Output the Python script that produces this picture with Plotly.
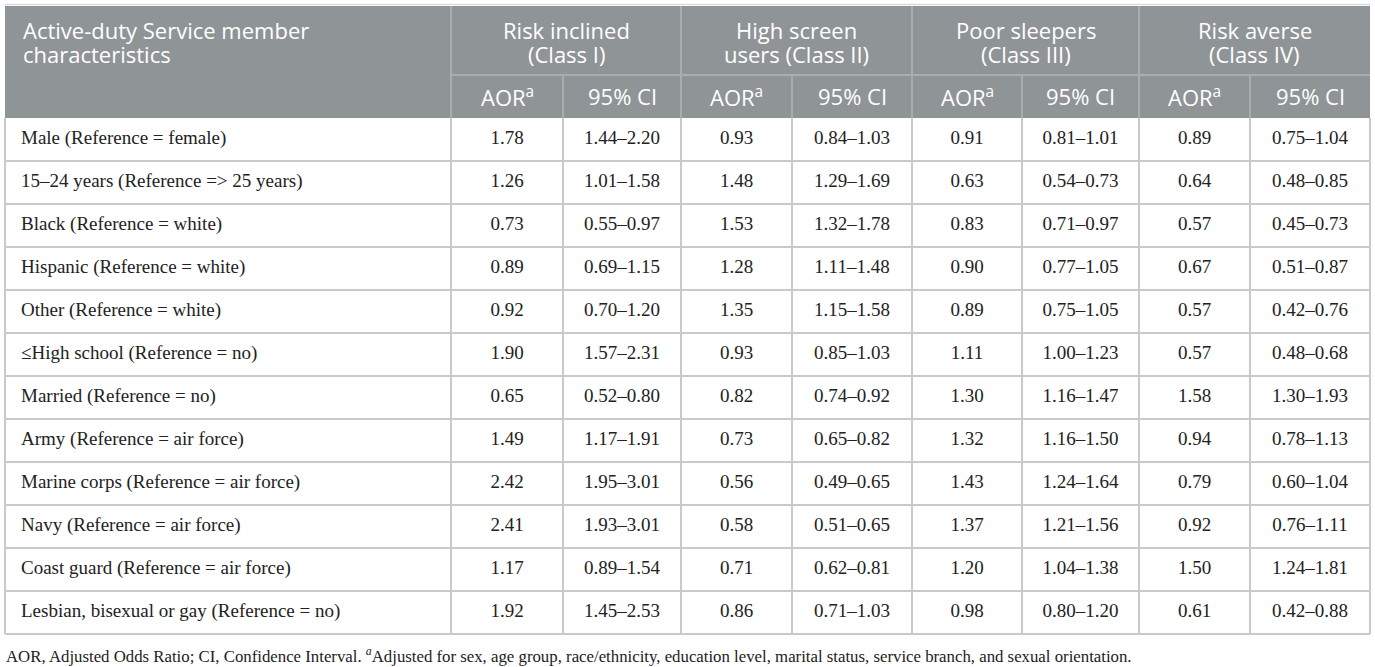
import plotly.graph_objects as go

characteristics = [
    "Male (Reference = female)",
    "15–24 years (Reference => 25 years)",
    "Black (Reference = white)",
    "Hispanic (Reference = white)",
    "Other (Reference = white)",
    "≤High school (Reference = no)",
    "Married (Reference = no)",
    "Army (Reference = air force)",
    "Marine corps (Reference = air force)",
    "Navy (Reference = air force)",
    "Coast guard (Reference = air force)",
    "Lesbian, bisexual or gay (Reference = no)",
]
class_names = [
    ["Risk inclined", "(Class I)"],
    ["High screen", "users (Class II)"],
    ["Poor sleepers", "(Class III)"],
    ["Risk averse", "(Class IV)"],
]

aor_class1 = [1.78, 1.26, 0.73, 0.89, 0.92, 1.90, 0.65, 1.49, 2.42, 2.41, 1.17, 1.92]
ci_class1 = ["1.44–2.20", "1.01–1.58", "0.55–0.97", "0.69–1.15", "0.70–1.20", "1.57–2.31",
             "0.52–0.80", "1.17–1.91", "1.95–3.01", "1.93–3.01", "0.89–1.54", "1.45–2.53"]
aor_class2 = [0.93, 1.48, 1.53, 1.28, 1.35, 0.93, 0.82, 0.73, 0.56, 0.58, 0.71, 0.86]
ci_class2 = ["0.84–1.03", "1.29–1.69", "1.32–1.78", "1.11–1.48", "1.15–1.58", "0.85–1.03",
             "0.74–0.92", "0.65–0.82", "0.49–0.65", "0.51–0.65", "0.62–0.81", "0.71–1.03"]
aor_class3 = [0.91, 0.63, 0.83, 0.90, 0.89, 1.11, 1.30, 1.32, 1.43, 1.37, 1.20, 0.98]
ci_class3 = ["0.81–1.01", "0.54–0.73", "0.71–0.97", "0.77–1.05", "0.75–1.05", "1.00–1.23",
             "1.16–1.47", "1.16–1.50", "1.24–1.64", "1.21–1.56", "1.04–1.38", "0.80–1.20"]
aor_class4 = [0.89, 0.64, 0.57, 0.67, 0.57, 0.57, 1.58, 0.94, 0.79, 0.92, 1.50, 0.61]
ci_class4 = ["0.75–1.04", "0.48–0.85", "0.45–0.73", "0.51–0.87", "0.42–0.76", "0.48–0.68",
             "1.30–1.93", "0.78–1.13", "0.60–1.04", "0.76–1.11", "1.24–1.81", "0.42–0.88"]

footnote = ("AOR, Adjusted Odds Ratio; CI, Confidence Interval. <sup><i>a</i></sup>Adjusted for sex, "
            "age group, race/ethnicity, education level, marital status, service branch, and sexual orientation.")

# layout in pixels (axes span the whole page)
W, H = 1375, 667
col_edges = [5, 451, 563, 681, 792, 912, 1022, 1139, 1250, 1370]
top, head_mid, head_bot, row_h = 6, 75, 118, 43
head_fill = "#8f9496"
head_line = "#a9adaf"
body_line = "#c9c9c9"
serif = "Liberation Serif"
sans = "Open Sans"

n = len(characteristics)
row_y = [head_bot + row_h * (i + 0.5) for i in range(n)]
bottom = head_bot + row_h * n
centers = [(col_edges[i] + col_edges[i + 1]) / 2 for i in range(1, len(col_edges) - 1)]

columns = [
    [f"{v:.2f}" for v in aor_class1], ci_class1,
    [f"{v:.2f}" for v in aor_class2], ci_class2,
    [f"{v:.2f}" for v in aor_class3], ci_class3,
    [f"{v:.2f}" for v in aor_class4], ci_class4,
]

fig = go.Figure()

fig.add_trace(go.Scatter(
    x=[col_edges[0] + 16] * n, y=row_y, text=characteristics, mode="text",
    textposition="middle right", textfont=dict(family=serif, size=19, color="#222"),
    hoverinfo="skip", showlegend=False))

for cx, vals in zip(centers, columns):
    fig.add_trace(go.Scatter(
        x=[cx] * n, y=row_y, text=vals, mode="text", textposition="middle center",
        textfont=dict(family=serif, size=19, color="#222"),
        hoverinfo="skip", showlegend=False))

shapes = []
# header background
shapes.append(dict(type="rect", x0=col_edges[0], x1=col_edges[-1], y0=top, y1=head_bot,
                   fillcolor=head_fill, line_width=0, layer="below"))
# header separators
for x in col_edges[1:-1:2]:
    shapes.append(dict(type="line", x0=x, x1=x, y0=top, y1=head_bot, line=dict(color=head_line, width=2)))
for x in col_edges[2:-1:2]:
    shapes.append(dict(type="line", x0=x, x1=x, y0=head_mid, y1=head_bot, line=dict(color=head_line, width=2)))
shapes.append(dict(type="line", x0=col_edges[1], x1=col_edges[-1], y0=head_mid, y1=head_mid,
                   line=dict(color=head_line, width=2)))
# body grid
for x in col_edges:
    shapes.append(dict(type="line", x0=x, x1=x, y0=head_bot, y1=bottom, line=dict(color=body_line, width=2)))
for i in range(1, n + 1):
    y = head_bot + row_h * i
    shapes.append(dict(type="line", x0=col_edges[0], x1=col_edges[-1], y0=y, y1=y,
                       line=dict(color=body_line, width=2)))
# thin top rule
shapes.append(dict(type="line", x0=col_edges[0], x1=col_edges[-1], y0=top - 1.5, y1=top - 1.5,
                   line=dict(color="#dcdcdc", width=1.5)))

annotations = []
hfont = dict(family=sans, size=22, color="white")
line_kw = dict(showarrow=False, font=hfont, yanchor="middle")
annotations.append(dict(x=col_edges[0] + 16, y=29.5, text="Active-duty Service member", xanchor="left", **line_kw))
annotations.append(dict(x=col_edges[0] + 16, y=53.5, text="characteristics", xanchor="left", **line_kw))
for k, (l1, l2) in enumerate(class_names):
    gx = (col_edges[1 + 2 * k] + col_edges[3 + 2 * k]) / 2
    annotations.append(dict(x=gx, y=29.5, text=l1, **line_kw))
    annotations.append(dict(x=gx, y=53.5, text=l2, **line_kw))
for k, cx in enumerate(centers):
    label = "AOR<sup>a</sup>" if k % 2 == 0 else "95% CI"
    annotations.append(dict(x=cx, y=96, text=label, **line_kw))
annotations.append(dict(x=col_edges[0] - 1, y=655, text=footnote, xanchor="left", yanchor="middle",
                        showarrow=False, font=dict(family=serif, size=16.8, color="#222")))

fig.update_layout(
    width=W, height=H, margin=dict(l=0, r=0, t=0, b=0),
    paper_bgcolor="white", plot_bgcolor="white",
    xaxis=dict(range=[0, W], visible=False, fixedrange=True),
    yaxis=dict(range=[H, 0], visible=False, fixedrange=True),
    shapes=shapes, annotations=annotations,
)

fig.write_html("out.html", config=dict(displayModeBar=False),
               post_script="document.body.style.margin='0';")
